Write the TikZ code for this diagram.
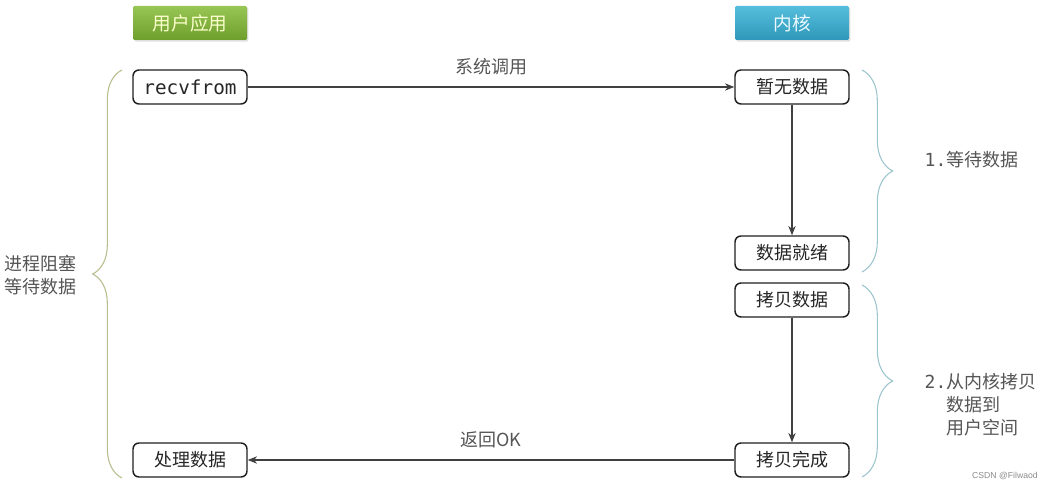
\documentclass[tikz,border=0pt]{standalone}
\usepackage{fontspec}
\setmainfont{Noto Sans CJK SC}
\setmonofont{DejaVu Sans Mono}
\newfontfamily\wmfont{Liberation Sans}
\usetikzlibrary{arrows.meta,decorations.pathreplacing,shadows}

\definecolor{boxline}{HTML}{1E1E1E}
\definecolor{txtgray}{HTML}{555555}
\definecolor{usergreenA}{HTML}{98C655}
\definecolor{usergreenB}{HTML}{6E9E2C}
\definecolor{kernblueA}{HTML}{56BEDC}
\definecolor{kernblueB}{HTML}{2E98BA}
\definecolor{bracegreen}{HTML}{B9BC8C}
\definecolor{braceblue}{HTML}{9CC4CC}

\tikzset{
  stepbox/.style={draw=boxline, line width=1.1pt, rounded corners=4.5pt,
    minimum width=85.5pt, minimum height=25.5pt, inner sep=0pt,
    font=\fontsize{13.5}{15}\selectfont, text=black!85},
  headbox/.style={minimum width=85.5pt, minimum height=25.5pt, inner sep=0pt,
    rounded corners=1pt, font=\fontsize{14}{16}\selectfont,
    drop shadow={shadow xshift=1pt, shadow yshift=-1.2pt, opacity=0.25}},
  flow/.style={-{Stealth[length=7pt,width=5.5pt]}, line width=0.8pt, draw=black!75},
  note/.style={font=\fontsize{13.5}{15}\selectfont, text=txtgray},
  sidenote/.style={font=\fontsize{13.5}{17}\selectfont, text=txtgray, align=left},
  bracket/.style={decorate, line width=0.8pt}
}

\begin{document}
\begin{tikzpicture}[x=0.75pt, y=-0.75pt]
  \useasboundingbox (0,0) rectangle (1047,491);

  \node[headbox, top color=usergreenA, bottom color=usergreenB, text=green!8!yellow!20] (user) at (190,23) {用户应用};
  \node[headbox, top color=kernblueA, bottom color=kernblueB, text=white!92!cyan] (kern) at (792,23) {内核};

  \node[stepbox, font=\fontsize{14.5}{16}\selectfont\ttfamily] (recv) at (190,87) {recvfrom};
  \node[stepbox] (nodata) at (792,87) {暂无数据};
  \node[stepbox] (ready) at (792,253) {数据就绪};
  \node[stepbox] (copy) at (792,300) {拷贝数据};
  \node[stepbox] (done) at (792,460) {拷贝完成};
  \node[stepbox] (handle) at (190,460) {处理数据};

  \draw[flow] (recv) -- node[note, above=5pt] (call) {系统调用} (nodata);
  \draw[flow] (nodata) -- (ready);
  \draw[flow] (copy) -- (done);
  \draw[flow] (done) -- node[note, above=5pt] (ok) {返回OK} (handle);

  \coordinate (lb0) at (122,478);
  \coordinate (lb1) at (122,70);
  \draw[bracket, draw=bracegreen, decoration={brace, amplitude=22pt}] (lb0) -- (lb1);
  \node[sidenote, align=center] (block) at (41,275) {进程阻塞\\等待数据};

  \coordinate (ra0) at (862,70);
  \coordinate (ra1) at (862,272);
  \draw[bracket, draw=braceblue, decoration={brace, amplitude=23pt}] (ra0) -- (ra1);
  \node[sidenote, anchor=west] (wait) at (920,160) {{\ttfamily 1.}等待数据};

  \coordinate (rb0) at (862,285);
  \coordinate (rb1) at (862,477);
  \draw[bracket, draw=braceblue, decoration={brace, amplitude=23pt}] (rb0) -- (rb1);
  \node[sidenote, anchor=north west] (move) at (920,369) {{\ttfamily 2.}从内核拷贝\\{\ttfamily\phantom{2.}}数据到\\{\ttfamily\phantom{2.}}用户空间};

  \node[font=\wmfont\fontsize{6.5}{8}\selectfont, text=black!45] (mark) at (1005,476) {CSDN @Filwaod};
\end{tikzpicture}
\end{document}
